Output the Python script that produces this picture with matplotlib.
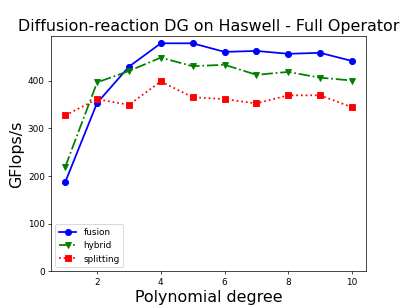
import matplotlib
matplotlib.use('Agg')
import matplotlib.pyplot as plt

degrees = [1, 2, 3, 4, 5, 6, 7, 8, 9, 10]
fusion = [187, 353, 429, 478, 478, 460, 462, 456, 458, 441]
hybrid = [219, 396, 420, 448, 430, 433, 412, 418, 406, 400]
splitting = [327, 361, 349, 398, 365, 361, 352, 369, 369, 344]

fig = plt.figure(figsize=(6.4, 4.8), dpi=63.6)
plt.plot(degrees, fusion, 'bo-', label='fusion', linewidth=2, markersize=7)
plt.plot(degrees, hybrid, 'gv-.', label='hybrid', linewidth=2, markersize=7)
plt.plot(degrees, splitting, 'rs:', label='splitting', linewidth=2, markersize=7)
plt.ylim(bottom=0)
plt.title('Diffusion-reaction DG on Haswell - Full Operator', fontsize=18)
plt.xlabel('Polynomial degree', fontsize=18)
plt.ylabel('GFlops/s', fontsize=18)
plt.legend(loc='lower left')
plt.savefig('out.png', dpi=63.6)
